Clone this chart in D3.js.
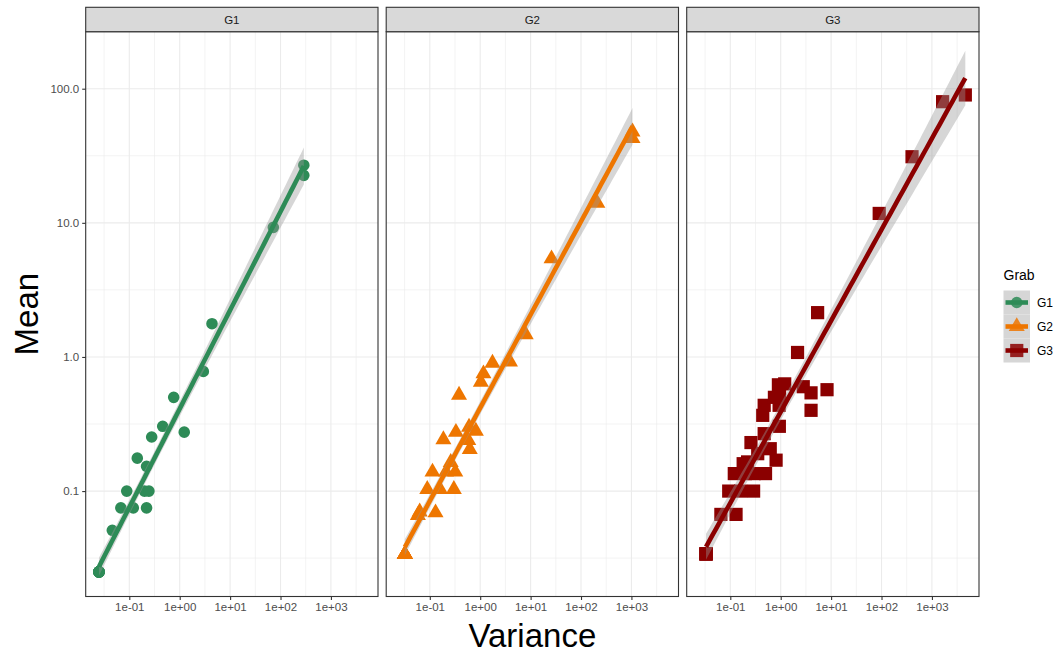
<!DOCTYPE html>
<html>
<head>
<meta charset="utf-8">
<script src="https://cdn.jsdelivr.net/npm/d3@7"></script>
<style>
  html, body { margin: 0; padding: 0; background: #fff; }
  svg { display: block; font-family: "Liberation Sans", Arial, sans-serif; }
</style>
</head>
<body>
<svg id="chart" width="1057" height="653"></svg>
<script>
// ---- data: per-group variance / mean pairs (repeated rows are samples with identical values) ----
const groups = ["G1", "G2", "G3"];
const groupColors = ["#2E8B57", "#EE7600", "#8B0000"];

const g1Variance = [0.025, 0.025, 0.025, 0.025, 0.025, 0.025, 0.025, 0.025, 0.025,
  0.046, 0.068, 0.12, 0.22, 0.089, 0.20, 0.245, 0.22, 0.144, 0.278, 0.46, 1.23, 0.76, 2.94, 4.37, 72, 290, 290];
const g1Mean     = [0.025, 0.025, 0.025, 0.025, 0.025, 0.025, 0.025, 0.025, 0.025,
  0.051, 0.075, 0.075, 0.075, 0.10, 0.10, 0.10, 0.153, 0.176, 0.253, 0.304, 0.275, 0.50, 0.78, 1.77, 9.25, 26.9, 22.6];

const g2Variance = [0.032, 0.032, 0.032, 0.032, 0.032, 0.032, 0.032, 0.032, 0.032, 0.032, 0.032,
  0.058, 0.063, 0.13, 0.089, 0.16, 0.30, 0.113, 0.21, 0.32, 0.26, 0.186, 0.33, 0.60, 0.82, 0.58, 0.62, 0.38, 1.03, 1.16, 1.75, 3.9, 8.0, 26, 211, 1050, 1050];
const g2Mean     = [0.0337, 0.0337, 0.0337, 0.0337, 0.0337, 0.0337, 0.0337, 0.0337, 0.0337, 0.0337, 0.0337,
  0.066, 0.070, 0.069, 0.103, 0.103, 0.103, 0.139, 0.139, 0.139, 0.164, 0.242, 0.275, 0.30, 0.28, 0.239, 0.205, 0.52, 0.65, 0.75, 0.90, 0.92, 1.47, 5.4, 14.0, 47.7, 42.7];

const g3Variance = [0.033, 0.033, 0.033, 0.033,
  0.065, 0.13, 0.093, 0.16, 0.29, 0.12, 0.20, 0.30, 0.50, 0.22, 0.18, 0.35, 0.81, 0.257, 0.62, 0.47, 0.94, 0.44, 0.47, 0.93, 0.75, 0.9, 1.2, 0.95, 2.16, 2.8, 4.0, 4.0, 8.3, 5.4, 90, 403, 1630, 4600];
const g3Mean     = [0.034, 0.034, 0.034, 0.034,
  0.067, 0.067, 0.10, 0.10, 0.10, 0.135, 0.135, 0.135, 0.135, 0.165, 0.16, 0.19, 0.17, 0.23, 0.207, 0.268, 0.304, 0.367, 0.436, 0.436, 0.50, 0.62, 0.63, 0.52, 1.08, 0.60, 0.54, 0.40, 0.57, 2.14, 11.75, 31.1, 80, 89.8];

const xTickValues = [0.1, 1, 10, 100, 1000];
const xTickLabels = ["1e-01", "1e+00", "1e+01", "1e+02", "1e+03"];
const yTickValues = [0.1, 1, 10, 100];
const yTickLabels = ["0.1", "1.0", "10.0", "100.0"];
const xMinorValues = [-1.5, -0.5, 0.5, 1.5, 2.5, 3.5].map(e => Math.pow(10, e));
const yMinorValues = [-1.5, -0.5, 0.5, 1.5].map(e => Math.pow(10, e));

const series = [
  { name: groups[0], color: groupColors[0], shape: "circle",   x: g1Variance, y: g1Mean },
  { name: groups[1], color: groupColors[1], shape: "triangle", x: g2Variance, y: g2Mean },
  { name: groups[2], color: groupColors[2], shape: "square",   x: g3Variance, y: g3Mean }
];

// ---- layout ----
const svg = d3.select("#chart");
const panelTop = 31.7, panelBottom = 596.5, stripTop = 7.3;
const panelW = 292.3, panelGap = 8.2, firstLeft = 85.7;
const panelLeft = i => firstLeft + i * (panelW + panelGap);

const x = d3.scaleLog().domain([Math.pow(10, -1.865), Math.pow(10, 3.934)]).range([0, panelW]);
const y = d3.scaleLog().domain([Math.pow(10, -1.786), Math.pow(10, 2.425)]).range([panelBottom - panelTop, 0]);
const innerH = panelBottom - panelTop;

// symbol paths centred on the point
function symbolPath(shape) {
  if (shape === "circle") return d3.symbol(d3.symbolCircle, Math.PI * 5.8 * 5.8)();
  if (shape === "square") { const h = 6.6; return `M${-h},${-h}H${h}V${h}H${-h}Z`; }
  const s = 16, hgt = s * Math.sqrt(3) / 2;
  return `M0,${-hgt * 2 / 3}L${s / 2},${hgt / 3}L${-s / 2},${hgt / 3}Z`;
}

// two-sided 95% Student t quantile (Cornish-Fisher expansion)
function tQuantile(df) {
  const z = 1.959964, z3 = z ** 3, z5 = z ** 5, z7 = z ** 7, z9 = z ** 9;
  const g1 = (z3 + z) / 4;
  const g2 = (5 * z5 + 16 * z3 + 3 * z) / 96;
  const g3 = (3 * z7 + 19 * z5 + 17 * z3 - 15 * z) / 384;
  const g4 = (79 * z9 + 776 * z7 + 1482 * z5 - 1920 * z3 - 945 * z) / 92160;
  return z + g1 / df + g2 / df ** 2 + g3 / df ** 3 + g4 / df ** 4;
}

// log-log linear fit of mean on variance, with a 95% confidence band
function fitLine(xs, ys) {
  const lx = xs.map(Math.log10), ly = ys.map(Math.log10);
  const n = lx.length;
  const mx = d3.mean(lx), my = d3.mean(ly);
  let sxx = 0, sxy = 0;
  for (let i = 0; i < n; i++) { sxx += (lx[i] - mx) ** 2; sxy += (lx[i] - mx) * (ly[i] - my); }
  const b = sxy / sxx, a = my - b * mx;
  let sse = 0;
  for (let i = 0; i < n; i++) sse += (ly[i] - a - b * lx[i]) ** 2;
  const s = Math.sqrt(sse / (n - 2));
  const t = tQuantile(n - 2);
  const [lo, hi] = d3.extent(lx);
  return d3.range(80).map(k => {
    const xv = lo + (hi - lo) * k / 79;
    const fit = a + b * xv;
    const se = s * Math.sqrt(1 / n + (xv - mx) ** 2 / sxx);
    return { x: Math.pow(10, xv), y: Math.pow(10, fit), ymin: Math.pow(10, fit - t * se), ymax: Math.pow(10, fit + t * se) };
  });
}

series.forEach((sr, i) => {
  const left = panelLeft(i);
  const g = svg.append("g").attr("transform", `translate(${left},${panelTop})`);

  // panel background and grid
  g.append("rect").attr("width", panelW).attr("height", innerH).attr("fill", "#fff");
  g.selectAll(".xminor").data(xMinorValues).join("line")
    .attr("x1", d => x(d)).attr("x2", d => x(d)).attr("y1", 0).attr("y2", innerH)
    .attr("stroke", "#ebebeb").attr("stroke-width", 0.6);
  g.selectAll(".yminor").data(yMinorValues).join("line")
    .attr("y1", d => y(d)).attr("y2", d => y(d)).attr("x1", 0).attr("x2", panelW)
    .attr("stroke", "#ebebeb").attr("stroke-width", 0.6);
  g.selectAll(".xmajor").data(xTickValues).join("line")
    .attr("x1", d => x(d)).attr("x2", d => x(d)).attr("y1", 0).attr("y2", innerH)
    .attr("stroke", "#ebebeb").attr("stroke-width", 1.1);
  g.selectAll(".ymajor").data(yTickValues).join("line")
    .attr("y1", d => y(d)).attr("y2", d => y(d)).attr("x1", 0).attr("x2", panelW)
    .attr("stroke", "#ebebeb").attr("stroke-width", 1.1);

  // points
  const pts = sr.x.map((v, k) => ({ x: v, y: sr.y[k] }));
  const path = symbolPath(sr.shape);
  g.selectAll(".pt").data(pts).join("path")
    .attr("d", path)
    .attr("transform", d => `translate(${x(d.x)},${y(d.y)})`)
    .attr("fill", sr.color);

  // regression band and line
  const fit = fitLine(sr.x, sr.y);
  g.append("path").datum(fit)
    .attr("d", d3.area().x(d => x(d.x)).y0(d => y(d.ymin)).y1(d => y(d.ymax)))
    .attr("fill", "#999999").attr("fill-opacity", 0.4);
  g.append("path").datum(fit)
    .attr("d", d3.line().x(d => x(d.x)).y(d => y(d.y)))
    .attr("fill", "none").attr("stroke", sr.color).attr("stroke-width", 4.6);

  // panel border
  g.append("rect").attr("width", panelW).attr("height", innerH)
    .attr("fill", "none").attr("stroke", "#333333").attr("stroke-width", 1.1);

  // strip
  svg.append("rect").attr("x", left).attr("y", stripTop).attr("width", panelW).attr("height", panelTop - stripTop)
    .attr("fill", "#d9d9d9").attr("stroke", "#333333").attr("stroke-width", 1.1);
  svg.append("text").attr("x", left + panelW / 2).attr("y", (stripTop + panelTop) / 2)
    .attr("text-anchor", "middle").attr("dominant-baseline", "central")
    .attr("font-size", 11.5).attr("fill", "#1a1a1a").text(sr.name);

  // x axis
  const xAxis = d3.axisBottom(x).tickValues(xTickValues)
    .tickFormat((d, k) => xTickLabels[k]).tickSize(3.5).tickPadding(3);
  const ax = svg.append("g").attr("transform", `translate(${left},${panelBottom})`).call(xAxis);
  ax.select(".domain").remove();
  ax.selectAll(".tick line").attr("stroke", "#333333").attr("stroke-width", 1.1);
  ax.selectAll(".tick text").attr("fill", "#4d4d4d").attr("font-size", 11.5)
    .attr("font-family", "Liberation Sans, Arial, sans-serif");
});

// y axis on the first panel
const yAxis = d3.axisLeft(y).tickValues(yTickValues)
  .tickFormat((d, k) => yTickLabels[k]).tickSize(3.5).tickPadding(3);
const ay = svg.append("g").attr("transform", `translate(${panelLeft(0)},${panelTop})`).call(yAxis);
ay.select(".domain").remove();
ay.selectAll(".tick line").attr("stroke", "#333333").attr("stroke-width", 1.1);
ay.selectAll(".tick text").attr("fill", "#4d4d4d").attr("font-size", 11.5)
  .attr("font-family", "Liberation Sans, Arial, sans-serif");

// axis titles
svg.append("text").attr("x", (firstLeft + panelLeft(2) + panelW) / 2).attr("y", 647)
  .attr("text-anchor", "middle").attr("font-size", 33).attr("fill", "#000").text("Variance");
svg.append("text").attr("transform", `translate(38,${(panelTop + panelBottom) / 2}) rotate(-90)`)
  .attr("text-anchor", "middle").attr("font-size", 33).attr("fill", "#000").text("Mean");

// legend
const legend = svg.append("g").attr("transform", "translate(1003.5,0)");
legend.append("text").attr("x", 0).attr("y", 280).attr("font-size", 14).attr("fill", "#000").text("Grab");
series.forEach((sr, i) => {
  const cy = 302.5 + i * 24;
  legend.append("rect").attr("x", 0).attr("y", cy - 12).attr("width", 26.5).attr("height", 24)
    .attr("fill", "#d6d6d6");
  legend.append("line").attr("x1", 2).attr("x2", 24.5).attr("y1", cy).attr("y2", cy)
    .attr("stroke", sr.color).attr("stroke-width", 4.6);
  legend.append("path").attr("d", symbolPath(sr.shape))
    .attr("transform", `translate(13.25,${cy})`).attr("fill", sr.color).attr("opacity", 0.85);
  legend.append("text").attr("x", 33.5).attr("y", cy).attr("dominant-baseline", "central")
    .attr("font-size", 12).attr("fill", "#000").text(sr.name);
});
</script>
</body>
</html>
